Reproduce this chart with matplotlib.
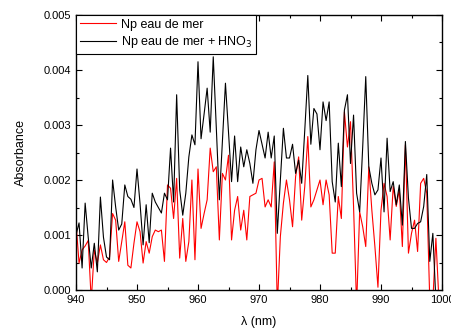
import numpy as np
import matplotlib
matplotlib.use("Agg")
import matplotlib.pyplot as plt
from matplotlib.ticker import MultipleLocator, FormatStrFormatter

plt.rcParams['font.family'] = ['Liberation Sans', 'DejaVu Sans']

wavelength = np.arange(940.0, 1000.01, 0.5)

# Np eau de mer (red), units of 1e-3
np_sea = [
    1.22, 0.49, 0.73, 0.80, 0.90, -0.2, 0.73, 0.49, 0.82, 0.55,
    0.50, 0.60, 1.39, 1.27, 0.52, 0.88, 1.24, 0.45, 0.40, 0.85,
    1.24, 1.06, 0.49, 0.88, 0.67, 0.97, 1.09, 1.06, 1.09, 0.52,
    1.91, 1.85, 1.30, 2.03, 0.58, 1.30, 0.52, 0.88, 2.00, 0.55,
    2.20, 1.12, 1.39, 1.64, 2.58, 2.15, 2.24, 0.91, 2.12, 2.00,
    2.45, 0.91, 1.45, 1.70, 1.09, 1.45, 0.91, 1.70, 1.73, 1.76,
    2.00, 2.03, 1.51, 1.64, 1.51, 2.33, -0.3, 0.97, 1.58, 2.00,
    1.64, 1.15, 2.06, 2.42, 1.27, 1.88, 2.79, 1.51, 1.64, 1.82,
    2.00, 1.55, 2.00, 1.73, 0.67, 0.67, 1.70, 1.30, 3.24, 2.60,
    3.06, 1.52, -0.3, 1.42, 1.15, 0.79, 2.24, 1.45, 0.79, 0.05,
    1.45, 1.94, 1.70, 0.91, 1.88, 1.52, 1.82, 0.79, 2.64, 0.67,
    1.03, 1.27, 0.70, 1.94, 2.03, 1.76, -0.2, -0.2, 0.94, -0.2,
    -0.2,
]

# Np eau de mer + HNO3 (black), units of 1e-3
np_sea_hno3 = [
    1.00, 1.22, 0.40, 1.58, 0.96, 0.40, 0.85, 0.33, 1.69, 0.96,
    0.60, 0.55, 2.00, 1.51, 1.09, 1.20, 1.91, 1.70, 1.65, 1.50,
    2.20, 1.57, 0.82, 1.55, 0.86, 1.76, 1.60, 1.50, 1.40, 1.76,
    1.64, 2.58, 1.60, 3.55, 1.82, 1.36, 1.76, 2.42, 2.82, 2.64,
    4.15, 2.75, 3.20, 3.67, 2.87, 4.24, 2.95, 1.64, 2.70, 3.76,
    2.87, 1.97, 2.80, 1.97, 2.60, 2.24, 2.55, 2.30, 1.94, 2.55,
    2.90, 2.65, 2.40, 2.87, 2.40, 2.80, 1.03, 2.00, 2.94, 2.40,
    2.40, 2.65, 2.12, 2.36, 1.94, 2.90, 3.90, 2.65, 3.30, 3.20,
    2.55, 3.42, 3.08, 3.42, 1.97, 1.60, 2.67, 1.88, 3.27, 3.55,
    2.30, 3.18, 1.76, 1.42, 2.60, 3.88, 2.24, 1.94, 1.73, 1.82,
    2.40, 1.42, 2.76, 1.79, 1.97, 1.55, 1.91, 1.18, 2.70, 1.67,
    1.12, 1.12, 1.21, 1.24, 1.52, 2.10, 0.52, 1.03, -0.2, -0.2,
    -0.2,
]

labels = ['Np eau de mer', 'Np eau de mer + HNO$_3$']

fig = plt.figure(figsize=(4.52, 3.29), dpi=100)
ax = fig.add_axes([76/452, 1-290/329, (442-76)/452, (290-15)/329])

ax.plot(wavelength, np.array(np_sea)*1e-3, color='red', lw=0.8, label=labels[0])
ax.plot(wavelength, np.array(np_sea_hno3)*1e-3, color='black', lw=0.8, label=labels[1])

ax.set_xlim(940, 1000)
ax.set_ylim(0, 0.005)
ax.xaxis.set_major_locator(MultipleLocator(10))
ax.xaxis.set_minor_locator(MultipleLocator(5))
ax.yaxis.set_major_locator(MultipleLocator(0.001))
ax.yaxis.set_minor_locator(MultipleLocator(0.0005))
ax.yaxis.set_major_formatter(FormatStrFormatter('%.3f'))
ax.tick_params(which='both', direction='in', top=True, right=True, labelsize=8, width=0.8)
ax.tick_params(which='major', length=4)
ax.tick_params(which='minor', length=2.5)
for s in ax.spines.values():
    s.set_linewidth(1.0)

ax.set_xlabel('λ (nm)', fontsize=9, labelpad=8)
ax.set_ylabel('Absorbance', fontsize=9, labelpad=12)

leg = ax.legend(loc='upper left', bbox_to_anchor=(0, 1), borderaxespad=0,
                fontsize=9, frameon=True, fancybox=False, framealpha=1,
                handlelength=2.9, handletextpad=0.4, borderpad=0.3,
                labelspacing=0.25)
leg.get_frame().set_edgecolor('black')
leg.get_frame().set_linewidth(0.8)

fig.savefig('out.png', dpi=100)
